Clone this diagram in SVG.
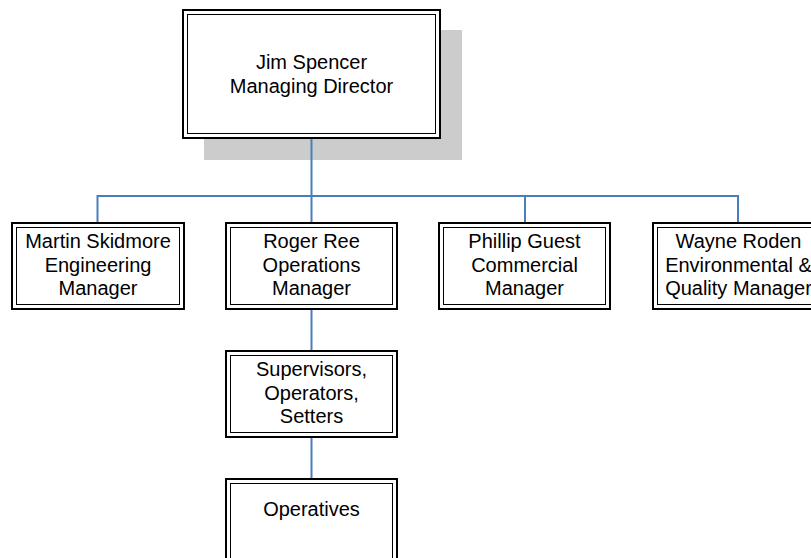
<svg xmlns="http://www.w3.org/2000/svg" width="811" height="558" viewBox="0 0 811 558">
<style>
.o{fill:#fff;stroke:#000;stroke-width:2}
.i{fill:none;stroke:#000;stroke-width:1}
.t{font-family:"Liberation Sans",Arial,sans-serif;font-size:20px;fill:#000;text-anchor:middle}
.c{fill:none;stroke:#4a7ebb;stroke-width:2}
</style>
<rect x="204" y="30" width="258" height="130" fill="#cccccc"/>
<g id="connectors">
<path class="c" d="M311.5 138V196M97.5 223V196H738V223M311.5 196V223M525 196V223M311.5 309V351M311.5 437V479"/>
</g>
<g id="jim">
<rect class="o" x="183" y="10" width="257" height="128"/>
<rect class="i" x="187.5" y="14.5" width="248" height="119"/>
<text class="t" x="311.5" y="69">Jim Spencer</text>
<text class="t" x="311.5" y="92.5">Managing Director</text>
</g>
<g id="martin">
<rect class="o" x="12" y="223" width="172" height="86"/>
<rect class="i" x="16.5" y="227.5" width="163" height="77"/>
<text class="t" x="98" y="248">Martin Skidmore</text>
<text class="t" x="98" y="271.5">Engineering</text>
<text class="t" x="98" y="295">Manager</text>
</g>
<g id="roger">
<rect class="o" x="226" y="223" width="171" height="86"/>
<rect class="i" x="230.5" y="227.5" width="162" height="77"/>
<text class="t" x="311.5" y="248">Roger Ree</text>
<text class="t" x="311.5" y="271.5">Operations</text>
<text class="t" x="311.5" y="295">Manager</text>
</g>
<g id="phillip">
<rect class="o" x="439" y="223" width="171" height="86"/>
<rect class="i" x="443.5" y="227.5" width="162" height="77"/>
<text class="t" x="524.5" y="248">Phillip Guest</text>
<text class="t" x="524.5" y="271.5">Commercial</text>
<text class="t" x="524.5" y="295">Manager</text>
</g>
<g id="wayne">
<rect class="o" x="653" y="223" width="171" height="86"/>
<rect class="i" x="657.5" y="227.5" width="162" height="77"/>
<text class="t" x="738.5" y="248">Wayne Roden</text>
<text class="t" x="738.5" y="271.5">Environmental &amp;</text>
<text class="t" x="738.5" y="295">Quality Manager</text>
</g>
<g id="supervisors">
<rect class="o" x="226" y="351" width="171" height="86"/>
<rect class="i" x="230.5" y="355.5" width="162" height="77"/>
<text class="t" x="311.5" y="376">Supervisors,</text>
<text class="t" x="311.5" y="399.5">Operators,</text>
<text class="t" x="311.5" y="423">Setters</text>
</g>
<g id="operatives">
<rect class="o" x="226" y="479" width="171" height="100"/>
<rect class="i" x="230.5" y="483.5" width="162" height="91"/>
<text class="t" x="311.5" y="516">Operatives</text>
</g>
</svg>
